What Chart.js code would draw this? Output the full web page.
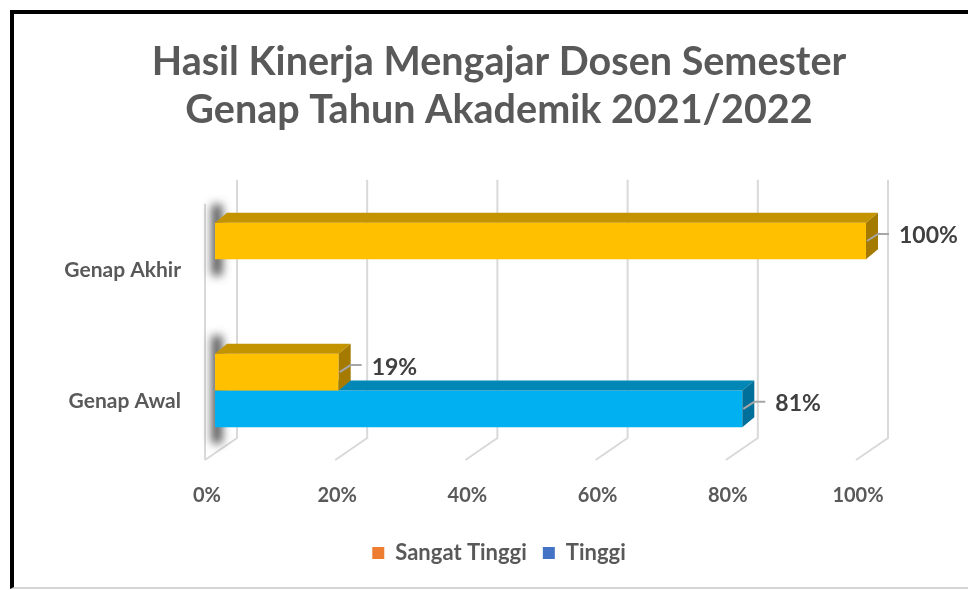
<!DOCTYPE html>
<html>
<head>
<meta charset="utf-8">
<script src="https://cdn.jsdelivr.net/npm/chart.js@4.4.0/dist/chart.umd.min.js"></script>
<style>
  html, body { margin: 0; padding: 0; background: #fff; overflow: hidden; }
  #frame { position: absolute; left: 10px; top: 10px; width: 1000px; height: 573px;
           border-left: 4px solid #000; border-top: 4px solid #000; border-bottom: 2px solid #d4d4d4; }
  #chart { position: absolute; left: 0; top: 0; }
</style>
</head>
<body>
<div id="frame"></div>
<canvas id="chart" width="968" height="590"></canvas>
<script>
// data
const categories = ["Genap Akhir", "Genap Awal"];
const seriesNames = ["Sangat Tinggi", "Tinggi"];
const sangatTinggi = [100, 19];
const tinggi = [null, 81];
const tickValues = [0, 20, 40, 60, 80, 100];

// styles
const FONT = "Lato";
const frontColors = ["#FFC000", "#00B0F0"];
const topColors = ["#C49400", "#0087B6"];
const sideColors = ["#A47A00", "#006F99"];
const legendColors = ["#ED7D31", "#4472C4"];
const DX = 12, DY = 10;

function poly(ctx, pts) {
  ctx.beginPath();
  ctx.moveTo(pts[0][0], pts[0][1]);
  for (let k = 1; k < pts.length; k++) ctx.lineTo(pts[k][0], pts[k][1]);
  ctx.closePath();
  ctx.fill();
}

// back wall grid lines, left wall, shadows, 3d faces and value labels
const wallPlugin = {
  id: "wall",
  beforeDatasetsDraw(chart) {
    const { ctx, chartArea: a, scales: { x } } = chart;
    ctx.save();
    ctx.strokeStyle = "#D9D9D9";
    ctx.lineWidth = 2;
    tickValues.forEach(v => {
      const bx = x.getPixelForValue(v) + 22;
      ctx.beginPath();
      ctx.moveTo(bx, a.top - 14);
      ctx.lineTo(bx, a.bottom - 18);
      ctx.lineTo(bx - 32, a.bottom + 4);
      ctx.stroke();
    });
    const fx = x.getPixelForValue(0) - 10;
    ctx.beginPath();
    ctx.moveTo(fx, a.top + 10);
    ctx.lineTo(fx, a.bottom + 4);
    ctx.stroke();

    // soft shadows where bars meet the wall
    ctx.filter = "blur(5px)";
    ctx.fillStyle = "rgba(30,30,30,0.8)";
    const metas = chart.getSortedVisibleDatasetMetas();
    categories.forEach((c, j) => {
      let t = Infinity, b = -Infinity;
      metas.forEach(m => {
        const bar = m.data[j];
        if (!bar || chart.data.datasets[m.index].data[j] == null) return;
        const p = bar.getProps(["y", "height"], true);
        t = Math.min(t, p.y - p.height / 2);
        b = Math.max(b, p.y + p.height / 2);
      });
      const x0 = x.getPixelForValue(0);
      ctx.fillRect(x0 - 3, t - DY - 8, 10, b - t + DY + 24);
    });
    ctx.restore();
  },
  afterDatasetDraw(chart, args) {
    const { ctx } = chart;
    const i = args.index;
    ctx.save();
    args.meta.data.forEach((bar, j) => {
      if (chart.data.datasets[i].data[j] == null) return;
      const { x, y, base, height } = bar.getProps(["x", "y", "base", "height"], true);
      const top = y - height / 2, bottom = y + height / 2;
      ctx.fillStyle = topColors[i];
      poly(ctx, [[base, top], [x, top], [x + DX, top - DY], [base + DX, top - DY]]);
      ctx.fillStyle = sideColors[i];
      poly(ctx, [[x, top], [x + DX, top - DY], [x + DX, bottom - DY], [x, bottom]]);
    });
    ctx.restore();
  },
  afterDraw(chart) {
    const { ctx } = chart;
    ctx.save();
    ctx.font = "bold 23px " + FONT;
    ctx.textAlign = "left";
    ctx.textBaseline = "middle";
    chart.getSortedVisibleDatasetMetas().forEach(m => {
      m.data.forEach((bar, j) => {
        const v = chart.data.datasets[m.index].data[j];
        if (v == null) return;
        const { x, y } = bar.getProps(["x", "y"], true);
        ctx.strokeStyle = "#A6A6A6";
        ctx.lineWidth = 2;
        ctx.beginPath();
        ctx.moveTo(x + 1, y);
        ctx.lineTo(x + DX, y - 7);
        ctx.lineTo(x + DX + 11, y - 7);
        ctx.stroke();
        ctx.fillStyle = "#404040";
        ctx.fillText(v + "%", x + 33, y - 5);
      });
    });
    ctx.restore();
  }
};

new Chart(document.getElementById("chart"), {
  type: "bar",
  data: {
    labels: categories,
    datasets: [
      { label: seriesNames[0], data: sangatTinggi, backgroundColor: frontColors[0] },
      { label: seriesNames[1], data: tinggi, backgroundColor: frontColors[1] }
    ]
  },
  options: {
    indexAxis: "y",
    responsive: false,
    animation: false,
    devicePixelRatio: 1,
    datasets: { bar: { barPercentage: 1, categoryPercentage: 0.56, borderWidth: 0 } },
    layout: { padding: { left: 30, right: 0, top: 0, bottom: 16 } },
    scales: {
      x: {
        min: 0, max: 100,
        grid: { display: false },
        border: { display: false },
        ticks: { stepSize: 20, callback: v => v + "%", color: "#595959",
                 font: { family: FONT, size: 20, weight: "bold" }, padding: 20, labelOffset: -8 },
        afterFit: s => { s.height = 70; }
      },
      y: {
        grid: { display: false },
        border: { display: false },
        ticks: { color: "#595959", font: { family: FONT, size: 21, weight: "bold" },
                 padding: 26, labelOffset: 11 },
        afterFit: s => { s.width = 185; }
      },
      yRight: {
        type: "category",
        position: "right",
        grid: { display: false },
        border: { display: false },
        ticks: { display: false },
        afterFit: s => { s.width = 102; }
      }
    },
    plugins: {
      title: {
        display: true,
        text: ["Hasil Kinerja Mengajar Dosen Semester", "Genap Tahun Akademik 2021/2022"],
        color: "#595959",
        font: { family: FONT, size: 39.5, weight: "bold", lineHeight: 1.2 },
        padding: { top: 39, bottom: 60 }
      },
      legend: {
        position: "bottom",
        labels: {
          color: "#595959",
          font: { family: FONT, size: 22, weight: "bold" },
          boxWidth: 12, boxHeight: 12, padding: 16,
          generateLabels: chart => chart.data.datasets.map((ds, i) => ({
            text: ds.label, fillStyle: legendColors[i], strokeStyle: legendColors[i],
            lineWidth: 0, datasetIndex: i, fontColor: "#595959"
          }))
        }
      },
      tooltip: { enabled: false }
    }
  },
  plugins: [wallPlugin]
});
</script>
</body>
</html>
